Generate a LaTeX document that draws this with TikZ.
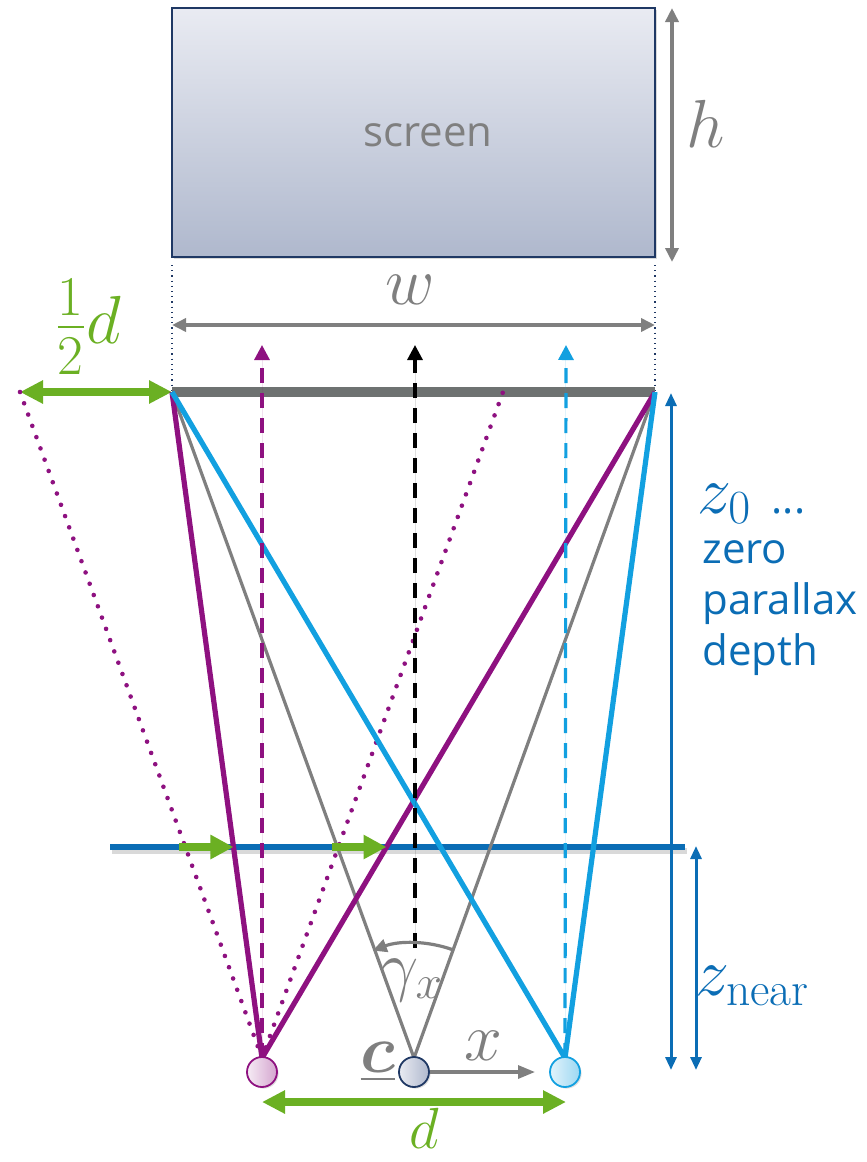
\RequirePackage{fix-cm}
\documentclass[tikz,border=0pt]{standalone}
\usepackage{amsmath,bm,graphicx}
\usepackage{fontspec}
\setsansfont{Open Sans}
\usetikzlibrary{arrows.meta,shadows,calc}
\definecolor{cpurple}{HTML}{8E1180}
\definecolor{clblue}{HTML}{12A0E0}
\definecolor{cdblue}{HTML}{0B6DB5}
\definecolor{cgreen}{HTML}{6BB023}
\definecolor{cgray}{HTML}{7F7F7F}
\definecolor{cbar}{HTML}{6E7271}
\definecolor{cnavy}{HTML}{1F3864}
\definecolor{scrtop}{HTML}{E9EBF2}
\definecolor{scrbot}{HTML}{AFB8CD}
\begin{document}
\begin{tikzpicture}[x=0.5pt,y=-0.5pt,
  mathlbl/.style={font=\fontsize{34}{40}\selectfont, inner sep=0pt},
  sanslbl/.style={font=\sffamily\fontsize{21}{25.5}\selectfont, inner sep=0pt},
  screenbox/.style={draw=cnavy, line width=0.8pt, top color=scrtop, bottom color=scrbot,
     minimum width=241.5pt, minimum height=124.5pt, inner sep=0pt,
     drop shadow={opacity=0.3, shadow xshift=1pt, shadow yshift=-1.2pt}},
  graydim/.style={draw=cgray, line width=2pt, {Triangle[length=7pt,width=6.5pt]}-{Triangle[length=7pt,width=6.5pt]}},
  greendim/.style={draw=cgreen, line width=4pt, {Triangle[length=11.5pt,width=11pt]}-{Triangle[length=11.5pt,width=11pt]}},
  greenshift/.style={draw=cgreen, line width=4pt, -{Triangle[length=11.5pt,width=11.5pt]}},
  bluedim/.style={draw=cdblue, line width=1.5pt, {Triangle[length=6.5pt,width=5.5pt]}-{Triangle[length=6.5pt,width=5.5pt]}},
  guide/.style={draw=cnavy, line width=0.6pt, dotted},
  dotline/.style={draw=cpurple, line width=2.3pt, line cap=round, dash pattern=on 0pt off 6pt},
  grayline/.style={draw=cgray, line width=1.6pt},
  eyeline/.style={line width=2.6pt},
  dasharrow/.style={line width=1.6pt, dash pattern=on 7.5pt off 5pt, -{Triangle[length=7.5pt,width=7.5pt]}},
  eye/.style={circle, minimum size=15pt, inner sep=0pt, line width=0.9pt,
     drop shadow={opacity=0.25, shadow xshift=0.8pt, shadow yshift=-0.8pt}}
]
\useasboundingbox (0,0) rectangle (867,1162);

% screen
\node[screenbox] (scr) at (413.5,132.5) {};
\node[sanslbl, text=cgray, font=\sffamily\fontsize{21}{25}\selectfont] (scrlbl) at (428,135) {screen};
\coordinate (hT) at (672,8);
\coordinate (hB) at (672,262);
\draw[graydim] (hT) -- (hB);
\node[mathlbl, text=cgray] (hlbl) at (706,124) {$h$};

% guides and w
\coordinate (gL) at (172,265);
\coordinate (gR) at (655,265);
\coordinate (SL) at (172,392);
\coordinate (SR) at (655,392);
\draw[guide] (gL) -- (SL);
\draw[guide] (gR) -- (SR);
\coordinate (wL) at (172,325);
\coordinate (wR) at (655,325);
\draw[graydim] (wL) -- (wR);
\node[mathlbl, text=cgray] (wlbl) at (410,290) {$w$};

% half d
\coordinate (FL) at (20,392);
\coordinate (FR) at (503,392);
\draw[greendim] (FL) -- (SL);
\node[mathlbl, text=cgreen, anchor=base] (hdlbl) at (88,343) {\raisebox{-2pt}{\scalebox{1.18}{$\tfrac{1}{2}$}}$d$};

% screen plane bar
\draw[draw=cbar, line width=5pt] (SL) -- (SR);

% near plane
\coordinate (NL) at (110,847);
\coordinate (NR) at (685,847);
\draw[draw=black, opacity=0.15, line width=3pt] ([shift={(2,4)}]NL) -- ([shift={(2,4)}]NR);
\draw[draw=cdblue, line width=3pt] (NL) -- (NR);

% eye points
\coordinate (EL) at (262,1058);
\coordinate (EC) at (414,1058);
\coordinate (ER) at (565,1058);

% dotted frustum
\draw[dotline] (FL) -- (EL) -- (FR);

% gray center frustum
\draw[grayline] (SL) -- (EC) -- (SR);

% purple and blue frusta
\draw[eyeline, draw=cpurple] (SL) -- (EL) -- (SR);
\draw[eyeline, draw=clblue] (SL) -- (ER) -- (SR);

% dashed view directions
\coordinate (dLt) at (262,345);
\coordinate (dCt) at (415,345);
\coordinate (dCb) at (415,948);
\coordinate (dRt) at (566,345);
\draw[dasharrow, draw=cpurple, fill=cpurple] (EL) -- (dLt);
\draw[dasharrow, draw=black, fill=black] (dCb) -- (dCt);
\draw[dasharrow, draw=clblue, fill=clblue] (ER) -- (dRt);

% green shift arrows at near plane
\coordinate (g1s) at ($(FL)!0.6832!(EL)+(-6,0)$);
\coordinate (g1e) at ($(SL)!0.6832!(EL)$);
\coordinate (g2s) at ($(FR)!0.6832!(EL)+(-6,0)$);
\coordinate (g2e) at ($(SR)!0.6832!(EL)$);
\draw[greenshift] (g1s) -- (g1e);
\draw[greenshift] (g2s) -- (g2e);

% angle arc
\draw[draw=cgray, line width=1.6pt, -{Triangle[length=7pt,width=6.5pt]}] (EC) ++(-70:115) arc[start angle=-70, end angle=-111, radius=115];
\node[mathlbl, text=cgray] (gam) at (412,980) {$\gamma_x$};

% depth dimensions
\coordinate (z0t) at (671,393);
\coordinate (z0b) at (671,1070);
\coordinate (znt) at (696,846);
\coordinate (znb) at (696,1070);
\draw[bluedim] (z0t) -- (z0b);
\draw[bluedim] (znt) -- (znb);
\node[mathlbl, text=cdblue, anchor=base west] (z0lbl) at (697,513) {$z_0$ \textsf{\fontsize{21}{25}\selectfont ...}};
\node[sanslbl, text=cdblue, anchor=north west, align=left] (zpd) at (702,540) {zero\\parallax\\depth};
\node[mathlbl, text=cdblue, anchor=base west] (znlbl) at (695,995) {$z_{\mathrm{near}}$};

% cameras
\node[eye, draw=cpurple, left color=cpurple!8, right color=cpurple!38] (camL) at (262,1072) {};
\node[eye, draw=cnavy, left color=scrtop, right color=scrbot] (camC) at (414,1072) {};
\node[eye, draw=clblue, left color=clblue!12, right color=clblue!42] (camR) at (565,1072) {};

% x axis and labels
\coordinate (xend) at (535,1072);
\draw[draw=cgray, line width=1.6pt, -{Triangle[length=8.5pt,width=6.5pt]}] (camC) -- (xend);
\node[mathlbl, text=cgray] (xlbl) at (483,1046) {$x$};
\node[mathlbl, text=cgray] (clbl) at (378,1062) {$\underline{\bm{c}}$};

% d
\coordinate (dL) at (262,1102);
\coordinate (dR) at (566,1102);
\draw[greendim] (dL) -- (dR);
\node[mathlbl, text=cgreen, font=\fontsize{29}{34}\selectfont, anchor=base] (dlbl) at (424,1148) {$d$};
\end{tikzpicture}
\end{document}
